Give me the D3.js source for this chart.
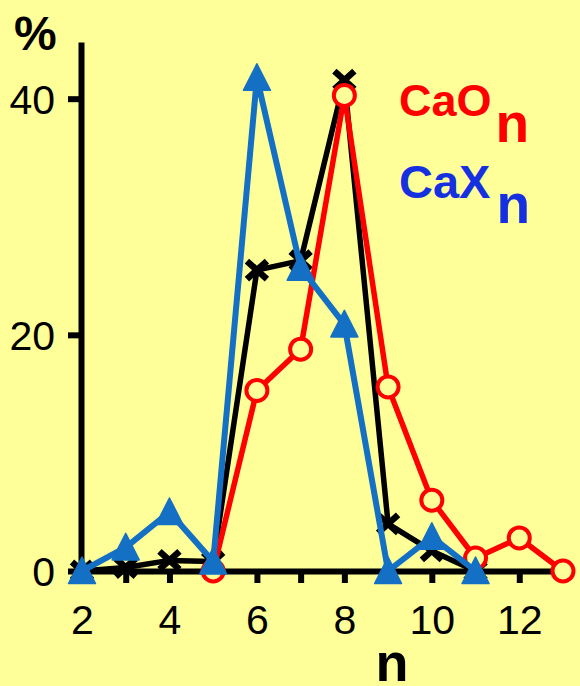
<!DOCTYPE html>
<html lang="en">
<head>
    <meta charset="UTF-8">
    <title>CaOn / CaXn size distribution</title>
    <script src="https://d3js.org/d3.v7.min.js"></script>
    <style>
        body { margin: 0; background: #ffff99; }
        svg { display: block; font-family: "Liberation Sans", Arial, sans-serif; }
        .tick text { font-size: 41px; fill: #000; }
    </style>
</head>
<body>
    <div id="chart"></div>
    <script>
        // values (percent)
        const blackN = [2, 3, 4, 5, 6, 7, 8, 9, 10, 11];
        const blackVals = [0, 0.3, 0.9, 0.8, 25.5, 26.3, 41.6, 4.0, 1.7, 0];

        const caoN = [5, 6, 7, 8, 9, 10, 11, 12, 13];
        const caoVals = [0, 15.3, 18.8, 40.3, 15.6, 6.0, 1.1, 2.8, 0];

        const caxN = [2, 3, 4, 5, 6, 7, 8, 9, 10, 11];
        const caxVals = [0, 2.0, 5.0, 0.8, 41.8, 25.7, 20.9, 0, 2.9, 0];

        const xTicks = [2, 3, 4, 5, 6, 7, 8, 9, 10, 11, 12, 13];
        const yTicks = [0, 20, 40];

        const width = 580, height = 686;

        const x = d3.scaleLinear().domain([2, 13]).range([82, 563]);
        const y = d3.scaleLinear().domain([0, 40]).range([571, 99]);

        const svg = d3.select("#chart").append("svg")
            .attr("width", width)
            .attr("height", height);

        svg.append("rect")
            .attr("width", width).attr("height", height)
            .attr("fill", "#ffff99");

        // axes
        const yAxis = svg.append("g")
            .attr("transform", `translate(${x(2) - 1},0)`)
            .call(d3.axisLeft(y.copy().domain([0, 44.8]).range([571, 42]))
                .tickValues(yTicks).tickSize(13).tickSizeOuter(0).tickPadding(13));

        const xAxis = svg.append("g")
            .attr("transform", `translate(0,${y(0)})`)
            .call(d3.axisBottom(x)
                .tickValues(xTicks).tickSize(12).tickSizeOuter(0).tickPadding(22)
                .tickFormat(d => d % 2 === 0 ? d : ""));

        [yAxis, xAxis].forEach(g => {
            g.select(".domain").attr("stroke", "#000").attr("stroke-width", 6);
            g.selectAll(".tick line").attr("stroke", "#000").attr("stroke-width", 6);
        });
        yAxis.selectAll(".tick text").attr("dy", "0.36em");

        const line = d3.line().x(d => x(d[0])).y(d => y(d[1]));

        // black series with x markers
        const blackData = d3.zip(blackN, blackVals);
        svg.append("path")
            .datum(blackData)
            .attr("d", line)
            .attr("fill", "none")
            .attr("stroke", "#000")
            .attr("stroke-width", 5.5)
            .attr("stroke-linejoin", "round");
        svg.selectAll(".xmark")
            .data(blackData)
            .enter()
            .append("path")
            .attr("class", "xmark")
            .attr("transform", d => `translate(${x(d[0])},${y(d[1])})`)
            .attr("d", "M-10,-9L10,9M-10,9L10,-9")
            .attr("stroke", "#000")
            .attr("stroke-width", 6.5);

        // CaOn, red circles
        const caoData = d3.zip(caoN, caoVals);
        svg.append("path")
            .datum(caoData)
            .attr("d", line)
            .attr("fill", "none")
            .attr("stroke", "#ff0000")
            .attr("stroke-width", 5.5)
            .attr("stroke-linejoin", "round");
        svg.selectAll(".circ")
            .data(caoData)
            .enter()
            .append("circle")
            .attr("class", "circ")
            .attr("cx", d => x(d[0]))
            .attr("cy", d => y(d[1]))
            .attr("r", 10.5)
            .attr("fill", "#ffff99")
            .attr("stroke", "#ff0000")
            .attr("stroke-width", 4);

        // CaXn, blue triangles
        const caxData = d3.zip(caxN, caxVals);
        svg.append("path")
            .datum(caxData)
            .attr("d", line)
            .attr("fill", "none")
            .attr("stroke", "#1470c4")
            .attr("stroke-width", 6)
            .attr("stroke-linejoin", "round");
        svg.selectAll(".tri")
            .data(caxData)
            .enter()
            .append("path")
            .attr("class", "tri")
            .attr("transform", d => `translate(${x(d[0])},${y(d[1])})`)
            .attr("d", "M0,-14L13.5,12.5L-13.5,12.5Z")
            .attr("fill", "#1470c4")
            .attr("stroke", "#1470c4")
            .attr("stroke-width", 1.5)
            .attr("stroke-linejoin", "round");

        // labels
        svg.append("text")
            .attr("x", 14).attr("y", 50)
            .attr("font-size", 48).attr("font-weight", "bold")
            .text("%");

        svg.append("text")
            .attr("x", 392).attr("y", 681)
            .attr("text-anchor", "middle")
            .attr("font-size", 54).attr("font-weight", "bold")
            .text("n");

        const cao = svg.append("text")
            .attr("x", 399).attr("y", 116)
            .attr("font-weight", "bold").attr("fill", "#ff0000");
        cao.append("tspan").attr("font-size", 45).text("CaO");
        cao.append("tspan").attr("font-size", 55).attr("dx", 4).attr("dy", 26).text("n");

        const cax = svg.append("text")
            .attr("x", 399).attr("y", 198)
            .attr("font-weight", "bold").attr("fill", "#1530e0");
        cax.append("tspan").attr("font-size", 47).text("CaX");
        cax.append("tspan").attr("font-size", 55).attr("dx", 6).attr("dy", 25).text("n");
    </script>
</body>
</html>
